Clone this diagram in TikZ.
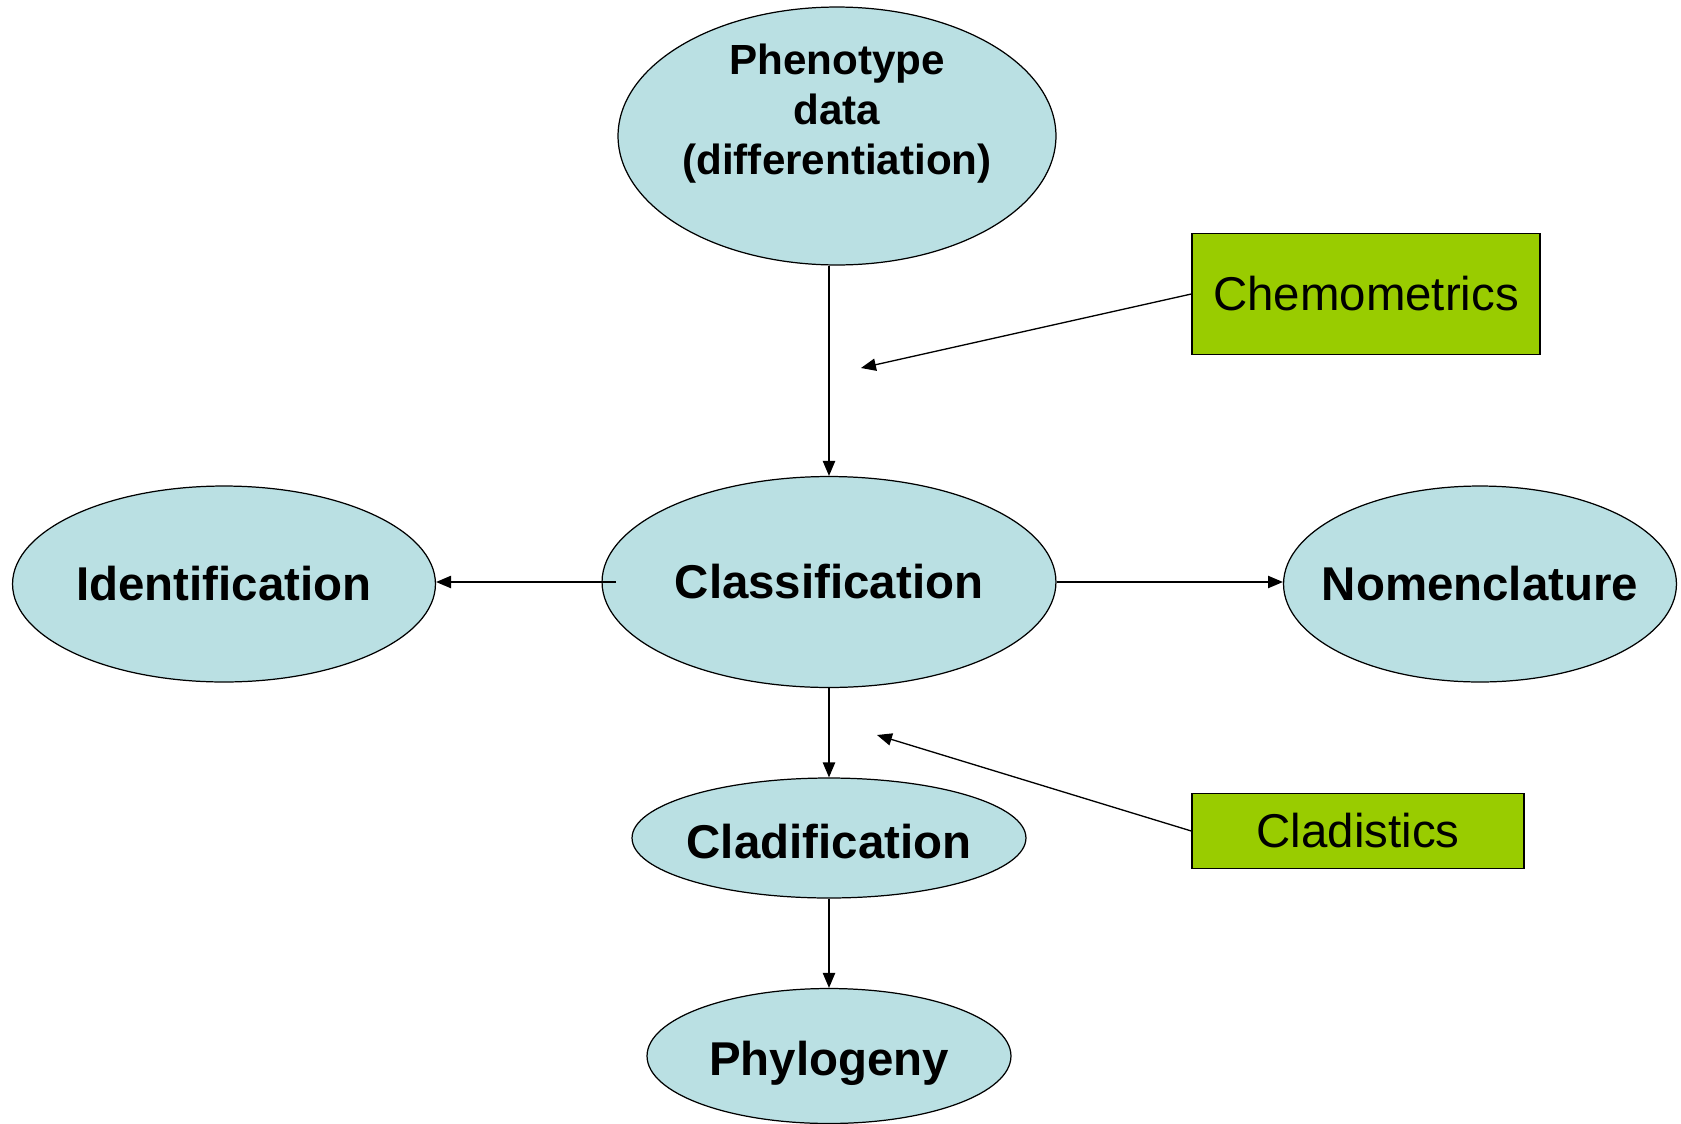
\documentclass[tikz,border=0pt]{standalone}
\usepackage{fontspec}
\setmainfont{Liberation Sans}
\usetikzlibrary{shapes.geometric,arrows.meta}

\definecolor{paleblue}{RGB}{186,224,227}
\definecolor{limegreen}{RGB}{153,204,0}

\begin{document}
\begin{tikzpicture}[
	x = 0.02cm, y = -0.02cm,
	blob/.style = {ellipse, draw, line width = 0.7pt, fill = paleblue, inner sep = -1cm,
		font = \fontsize{27}{28}\selectfont\bfseries, align = center},
	tag/.style = {rectangle, draw, line width = 0.8pt, fill = limegreen, inner sep = 0pt,
		font = \fontsize{27}{28}\selectfont},
	link/.style = {draw, line width = 0.75pt, -{Triangle[length = 8.5pt, width = 7pt]}}
	]
	\useasboundingbox (0,0) rectangle (1681,1123);
	\node[blob, minimum width = 8.76cm, minimum height = 5.16cm,
		label = {[yshift = 0.45cm, align = center, font = \fontsize{24}{28.5}\selectfont\bfseries]center:Phenotype\\data\\(differentiation)}]
		(pheno) at (837,136) {};
	\node[blob, minimum width = 9.08cm, minimum height = 4.22cm] (clas) at (829,582) {Classification};
	\node[blob, minimum width = 8.46cm, minimum height = 3.92cm] (ident) at (224,584) {Identification};
	\node[blob, minimum width = 7.86cm, minimum height = 3.92cm] (nomen) at (1480,584) {Nomenclature};
	\node[blob, minimum width = 7.88cm, minimum height = 2.4cm,
		label = {[yshift = -0.08cm, font = \fontsize{27}{28}\selectfont\bfseries]center:Cladification}]
		(clad) at (829,838) {};
	\node[blob, minimum width = 7.28cm, minimum height = 2.7cm,
		label = {[yshift = -0.15cm, font = \fontsize{27}{28}\selectfont\bfseries]center:Phylogeny}]
		(phylo) at (829,1056) {};
	\node[tag, minimum width = 6.96cm, minimum height = 2.42cm] (chemo) at (1366,294) {Chemometrics};
	\node[tag, minimum width = 6.64cm, minimum height = 1.5cm] (cladi) at (1358,831) {Cladistics};
	\coordinate (chemotip) at (861,368);
	\coordinate (cladtip) at (877,735);
	\coordinate (clasleft) at (616,582);

	\draw[link] (pheno.south -| clas.north) -- (clas.north);
	\draw[link] (clasleft) -- (clasleft -| ident.east);
	\draw[link] (clas.east) -- (clas.east -| nomen.west);
	\draw[link] (clas.south) -- (clad.north);
	\draw[link] (clad.south) -- (phylo.north);
	\draw[link] (chemo.west) -- (chemotip);
	\draw[link] (cladi.west) -- (cladtip);
\end{tikzpicture}
\end{document}
